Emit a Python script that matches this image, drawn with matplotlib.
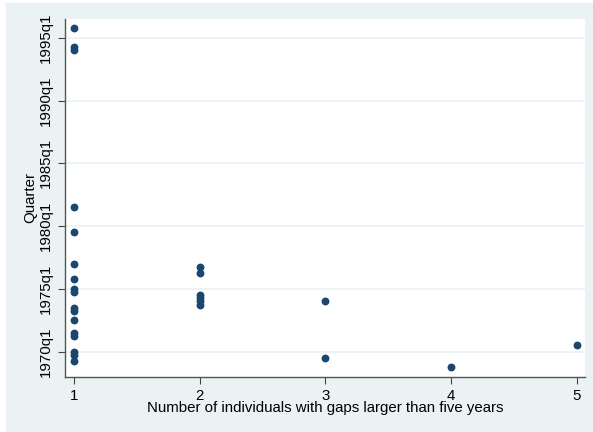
import matplotlib.pyplot as plt

# Quarters are counted Stata-style: 0 = 1960q1
quarter_1 = [143, 137, 136, 86, 78, 68, 63, 60, 59, 54, 53, 50, 46, 45, 40, 39, 37]
gaps_1 = [1] * len(quarter_1)
gaps_2 = [2, 2, 2, 2, 2, 2]
quarter_2 = [67, 65, 58, 57, 56, 55]
gaps_3 = [3, 3]
quarter_3 = [56, 38]
gaps_4 = [4]
quarter_4 = [35]
gaps_5 = [5]
quarter_5 = [42]

x = gaps_1 + gaps_2 + gaps_3 + gaps_4 + gaps_5
y = quarter_1 + quarter_2 + quarter_3 + quarter_4 + quarter_5

y_ticks = [40, 60, 80, 100, 120, 140]
y_labels = ['1970q1', '1975q1', '1980q1', '1985q1', '1990q1', '1995q1']
x_ticks = [1, 2, 3, 4, 5]

plt.rcParams['font.family'] = ['Liberation Sans', 'DejaVu Sans']

fig = plt.figure(figsize=(5.93, 4.32), dpi=100)
fig.patches.append(plt.Rectangle((6 / 593, 0), 1, 1 - 3 / 432,
                                 transform=fig.transFigure, color='#eaf2f3', zorder=-1))
ax = fig.add_axes([65 / 593, 1 - 376.7 / 432, (585.3 - 65) / 593, (376.7 - 19) / 432])
ax.set_facecolor('white')

ax.scatter(x, y, s=32, color='#1a476f', zorder=3, linewidths=0)

ax.set_xlim(0.928, 5.07)
ax.set_ylim(32, 146)
ax.set_xticks(x_ticks)
ax.set_yticks(y_ticks)
ax.set_yticklabels(y_labels, rotation=90, va='center')
ax.tick_params(labelsize=10.8, length=5, width=0.8, color='#444444')
ax.tick_params(axis='y', pad=4)
ax.grid(axis='y', color='#eaf2f3', linewidth=1.2)
ax.set_axisbelow(True)
for side in ['top', 'right']:
    ax.spines[side].set_visible(False)
for side in ['left', 'bottom']:
    ax.spines[side].set_color('#555555')
    ax.spines[side].set_linewidth(1.0)

ax.set_xlabel('Number of individuals with gaps larger than five years', fontsize=10.8, labelpad=-1)
ax.set_ylabel('Quarter', fontsize=10.8, labelpad=1)

fig.savefig('out.png', dpi=100)
